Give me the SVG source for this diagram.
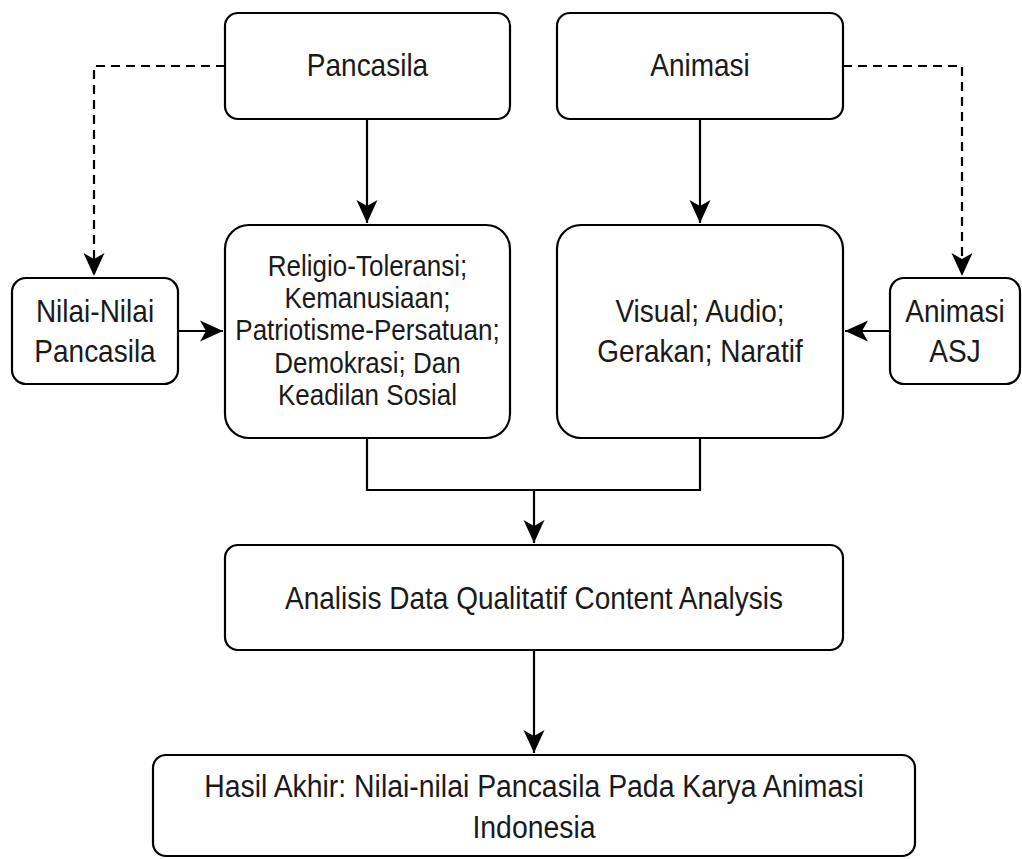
<svg xmlns="http://www.w3.org/2000/svg" width="1022" height="859" viewBox="0 0 1022 859">
<style>
.box{fill:#fff;stroke:#000;stroke-width:2.2}
.t{font-family:"Liberation Sans",Arial,sans-serif;font-size:28px;fill:#1a1a1a;text-anchor:middle}
.ts{font-family:"Liberation Sans",Arial,sans-serif;font-size:26px;fill:#1a1a1a;text-anchor:middle}
.ln{fill:none;stroke:#000;stroke-width:2.2}
.dash{fill:none;stroke:#000;stroke-width:2.2;stroke-dasharray:9 6}
</style>
<defs>
<marker id="arr" markerUnits="userSpaceOnUse" markerWidth="26" markerHeight="24" viewBox="-24 -12 26 24" refX="0" refY="0" orient="auto">
<path d="M-23,-10.5 L0,0 L-23,10.5 L-17,0 Z" fill="#000"/>
</marker>
</defs>
<rect width="1022" height="859" fill="#fff"/>
<g id="connectors">
<path class="dash" d="M225,66 H94 V276" marker-end="url(#arr)"/>
<path class="dash" d="M843,66 H962 V276" marker-end="url(#arr)"/>
<path class="ln" d="M367,119 V223" marker-end="url(#arr)"/>
<path class="ln" d="M700,119 V223" marker-end="url(#arr)"/>
<path class="ln" d="M178,331 H223" marker-end="url(#arr)"/>
<path class="ln" d="M890,331 H845" marker-end="url(#arr)"/>
<path class="ln" d="M367,438 V490 H700 V438"/>
<path class="ln" d="M534,490 V543" marker-end="url(#arr)"/>
<path class="ln" d="M534,650 V753" marker-end="url(#arr)"/>
</g>
<g id="pancasila">
<rect class="box" x="225" y="13" width="285" height="106" rx="13"/>
<text class="t" transform="translate(367.5,76) scale(1,1.12)">Pancasila</text>
</g>
<g id="animasi">
<rect class="box" x="557" y="13" width="286" height="106" rx="13"/>
<text class="t" transform="translate(700,76) scale(1,1.12)">Animasi</text>
</g>
<g id="nilai">
<rect class="box" x="12" y="278" width="166" height="106" rx="14"/>
<text class="t" transform="translate(95,322) scale(1,1.12)">Nilai-Nilai</text>
<text class="t" transform="translate(95,362) scale(1,1.12)">Pancasila</text>
</g>
<g id="religio">
<rect class="box" x="225" y="225" width="285" height="213" rx="24"/>
<text class="ts" transform="translate(367.5,276) scale(1,1.12)">Religio-Toleransi;</text>
<text class="ts" transform="translate(367.5,308) scale(1,1.12)">Kemanusiaan;</text>
<text class="ts" transform="translate(367.5,340) scale(1,1.12)">Patriotisme-Persatuan;</text>
<text class="ts" transform="translate(367.5,373) scale(1,1.12)">Demokrasi; Dan</text>
<text class="ts" transform="translate(367.5,405) scale(1,1.12)">Keadilan Sosial</text>
</g>
<g id="visual">
<rect class="box" x="557" y="225" width="286" height="213" rx="24"/>
<text class="t" transform="translate(700,322) scale(1,1.12)">Visual; Audio;</text>
<text class="t" transform="translate(700,362) scale(1,1.12)">Gerakan; Naratif</text>
</g>
<g id="asj">
<rect class="box" x="890" y="278" width="130" height="106" rx="14"/>
<text class="t" transform="translate(955,322) scale(1,1.12)">Animasi</text>
<text class="t" transform="translate(955,362) scale(1,1.12)">ASJ</text>
</g>
<g id="analisis">
<rect class="box" x="225" y="545" width="618" height="105" rx="13"/>
<text class="t" transform="translate(534,609) scale(1,1.12)">Analisis Data Qualitatif Content Analysis</text>
</g>
<g id="hasil">
<rect class="box" x="153" y="755" width="762" height="101" rx="13"/>
<text class="t" style="font-size:28.4px" transform="translate(534,797) scale(1,1.1)">Hasil Akhir: Nilai-nilai Pancasila Pada Karya Animasi</text>
<text class="t" style="font-size:28.4px" transform="translate(534,838) scale(1,1.1)">Indonesia</text>
</g>
</svg>
